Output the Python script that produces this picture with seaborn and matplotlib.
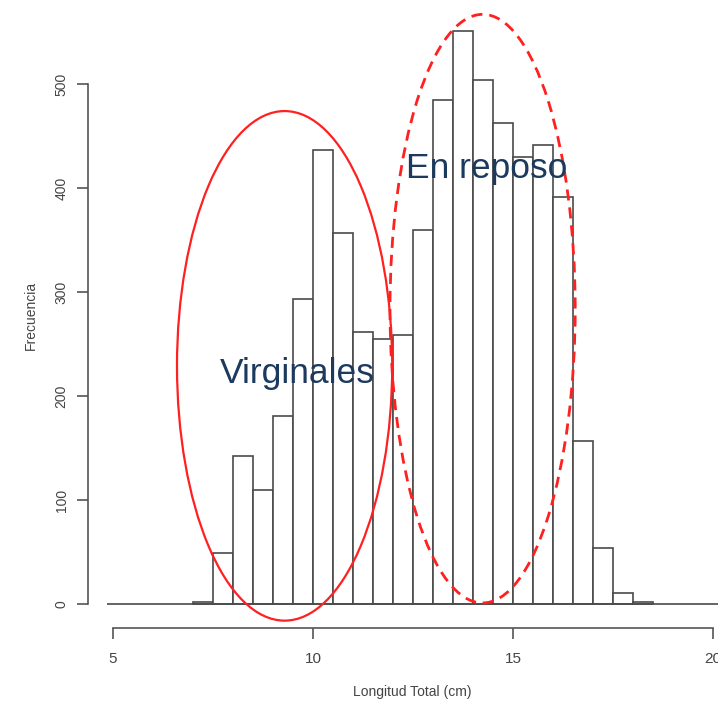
import numpy as np
import pandas as pd
import matplotlib
matplotlib.use("Agg")
import matplotlib.pyplot as plt
import seaborn as sns
from matplotlib.patches import Ellipse

# --- data (0.5 cm bins) ---
bin_left = [7.0, 7.5, 8.0, 8.5, 9.0, 9.5, 10.0, 10.5, 11.0, 11.5, 12.0, 12.5,
            13.0, 13.5, 14.0, 14.5, 15.0, 15.5, 16.0, 16.5, 17.0, 17.5, 18.0]
counts = [2, 49, 142, 110, 181, 293, 437, 357, 262, 255, 259, 360,
          485, 551, 504, 463, 430, 441, 391, 157, 54, 11, 2]
bin_width = 0.5

x_ticks = [5, 10, 15, 20]
y_ticks = [0, 100, 200, 300, 400, 500]

# group annotations
groups = ["Virginales", "En reposo"]
text_xy = [(9.6, 222), (14.33, 419)]
ell_center = [(9.29, 229), (14.24, 284)]
ell_size = [(5.38, 490), (4.63, 566)]
ell_style = ["solid", "dashed"]

df = pd.DataFrame({"mid": np.array(bin_left) + bin_width / 2, "n": counts})
edges = list(bin_left) + [bin_left[-1] + bin_width]

sns.set_style("white")
plt.rcParams['font.family'] = ['Liberation Sans', 'DejaVu Sans']

fig = plt.figure(figsize=(7.18, 7.04), dpi=100)
ax = fig.add_axes([107 / 718, 74 / 704, 611 / 718, 630 / 704])

sns.histplot(data=df, x="mid", weights="n", bins=edges, ax=ax,
             color="white", edgecolor="#4a4a4a", linewidth=1.2, alpha=1)

# baseline
ax.axhline(0, color="#4a4a4a", lw=1.2, zorder=3)

for i, g in enumerate(groups):
    e = Ellipse(ell_center[i], ell_size[i][0], ell_size[i][1], fill=False,
                edgecolor="#ff2020", lw=1.6 if ell_style[i] == "solid" else 2.0,
                linestyle=ell_style[i] if ell_style[i] == "solid" else (0, (4, 2.5)),
                clip_on=False, zorder=4)
    ax.add_patch(e)
    ax.text(text_xy[i][0], text_xy[i][1], g, fontsize=25.5, color="#1c3a5e",
            ha="center", va="center", zorder=5)

ax.set_xlim(4.85, 20.125)
ax.set_ylim(-25, 580.8)

for s in ["top", "right"]:
    ax.spines[s].set_visible(False)
ax.spines["bottom"].set_position(("data", -23))
ax.spines["bottom"].set_bounds(5, 20)
ax.spines["left"].set_position(("outward", 13.7))
ax.spines["left"].set_bounds(0, 500)
for s in ["bottom", "left"]:
    ax.spines[s].set_color("#555555")
    ax.spines[s].set_linewidth(1.2)

ax.set_xticks(x_ticks)
ax.set_yticks(y_ticks)
ax.tick_params(axis="both", length=8, width=1.2, color="#555555",
               labelcolor="#444444", direction="out", bottom=True, left=True)
ax.tick_params(axis="x", labelsize=11, pad=9)
ax.tick_params(axis="y", labelsize=10, pad=6)
plt.setp(ax.get_yticklabels(), rotation=90, va="center")

ax.set_xlabel("Longitud Total (cm)", fontsize=10, color="#444444", labelpad=14)
ax.set_ylabel("Frecuencia", fontsize=10, color="#444444", labelpad=12)

fig.savefig("out.png", dpi=100)
